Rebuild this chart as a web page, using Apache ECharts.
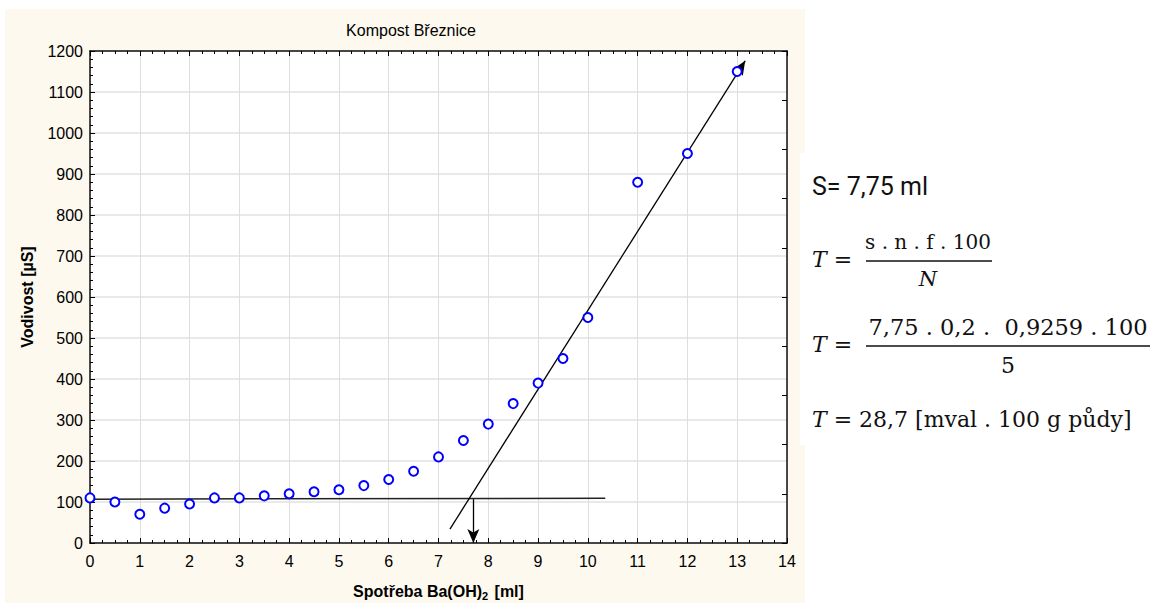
<!DOCTYPE html>
<html><head><meta charset="utf-8">
<script src="https://cdn.jsdelivr.net/npm/echarts@6/dist/echarts.min.js"></script>
<style>
html,body{margin:0;padding:0;background:#fff;}
#cream{position:absolute;left:5px;top:9px;width:800px;height:594px;background:#fdf9ee;}
#wbox{position:absolute;left:800px;top:153px;width:353px;height:292px;background:#fff;}
#chart{position:absolute;left:0;top:0;width:1153px;height:603px;}
</style></head>
<body>
<div id="cream"></div><div id="wbox"></div>
<div id="chart"></div>
<script>
// Data
const titleText = 'Kompost Březnice';
const xValues = [0,0.5,1,1.5,2,2.5,3,3.5,4,4.5,5,5.5,6,6.5,7,7.5,8,8.5,9,9.5,10,11,12,13];
const yValues = [110,100,70,85,95,110,110,115,120,125,130,140,155,175,210,250,290,340,390,450,550,880,950,1150];
const baseLine = [[0,107],[10.35,109]];
const steepLine = [[7.23,34],[13.16,1176]];
const dropArrow = [[7.7,107],[7.7,0]];
const formulaLines = {
  s: 'S= 7,75 ml',
  num1: 's . n . f . 100',
  den1: 'N',
  num2: '7,75 . 0,2 .  0,9259 . 100',
  den2: '5',
  res: '28,7 [mval . 100 g půdy]'
};

const chart = echarts.init(document.getElementById('chart'), null, {renderer:'svg'});
const pts = xValues.map((x,i)=>[x,yValues[i]]);
const sans = 'Liberation Sans, Arial, sans-serif';
const axisFont = {fontFamily:sans, fontSize:16, color:'#000'};
const serif = 'DejaVu Serif, serif';

const option = {
  backgroundColor:'transparent',
  animation:false,
  title:{text:titleText, left:406, top:17, textAlign:'center',
    textStyle:{fontFamily:sans, fontSize:16, fontWeight:'normal', color:'#000'}},
  grid:{left:90, top:51, right:366, bottom:60, show:true, backgroundColor:'#fff', borderWidth:0,
    containLabel:false, outerBoundsMode:'none'},
  xAxis:[{
    type:'value', min:0, max:14, interval:1, position:'bottom',
    axisLine:{show:true, onZero:false, lineStyle:{color:'#111', width:1.5}},
    axisTick:{show:true, inside:true, length:5, lineStyle:{color:'#000'}},
    minorTick:{show:true, splitNumber:4, length:3, lineStyle:{color:'#000'}},
    axisLabel:{...axisFont, margin:10},
    splitLine:{show:true, lineStyle:{color:'#dedede', width:1}},
    name:'{a|Spotřeba Ba(OH)}{s|2}{a| [ml]}', nameLocation:'middle', nameGap:38,
    nameTextStyle:{rich:{
      a:{fontFamily:sans, fontSize:16, fontWeight:'bold', color:'#000', lineHeight:20},
      s:{fontFamily:sans, fontSize:11, fontWeight:'bold', color:'#000', lineHeight:20, padding:[10,2,0,0]}
    }}
  },{
    type:'value', min:0, max:14, interval:1, position:'top',
    axisLine:{show:true, onZero:false, lineStyle:{color:'#111', width:1.5}},
    axisTick:{show:true, inside:true, length:5, lineStyle:{color:'#000'}},
    minorTick:{show:true, splitNumber:4, length:3, lineStyle:{color:'#000'}},
    axisLabel:{show:false}, splitLine:{show:false}
  }],
  yAxis:[{
    type:'value', min:0, max:1200, interval:100, position:'left',
    axisLine:{show:true, onZero:false, lineStyle:{color:'#111', width:1.5}},
    axisTick:{show:true, inside:true, length:5, lineStyle:{color:'#000'}},
    minorTick:{show:true, splitNumber:5, length:3, lineStyle:{color:'#000'}},
    axisLabel:{...axisFont, margin:7, formatter:(v)=>String(v)},
    splitLine:{show:true, lineStyle:{color:'#e2e2e2', width:1.5}},
    name:'Vodivost [µS]', nameLocation:'middle', nameGap:55, nameRotate:90,
    nameTextStyle:{fontFamily:sans, fontSize:16, fontWeight:'bold', color:'#000'}
  },{
    type:'value', min:0, max:10, interval:1, position:'right',
    axisLine:{show:true, onZero:false, lineStyle:{color:'#111', width:1.5}},
    axisTick:{show:true, inside:true, length:5, lineStyle:{color:'#000'}},
    axisLabel:{show:false}, splitLine:{show:false}
  }],
  series:[
    {type:'line', data:baseLine, showSymbol:false, symbol:'none',
     lineStyle:{color:'#222', width:1.5}, z:3},
    {type:'line', data:[], showSymbol:false,
     markLine:{silent:true, animation:false, label:{show:false},
       lineStyle:{color:'#000', width:1.3, type:'solid'},
       symbolSize:[9,14],
       data:[
         [{coord:steepLine[0], symbol:'none'},{coord:steepLine[1], symbol:'arrow'}],
         [{coord:dropArrow[0], symbol:'none'},{coord:dropArrow[1], symbol:'arrow'}]
       ]}, z:4},
    {type:'scatter', data:pts, symbol:'emptyCircle', symbolSize:9,
     itemStyle:{color:'#0000ff', borderColor:'#0000ff', borderWidth:1.5, opacity:1}, z:5}
  ],
  graphic:[
    {type:'text', x:812, y:186, style:{text:formulaLines.s, font:'25px Roboto, sans-serif', fill:'#111', textVerticalAlign:'middle'}},
    {type:'text', x:812, y:259, style:{text:'{i|T} =', rich:{i:{fontStyle:'italic', font:'italic 22px '+serif}}, font:'22px '+serif, fill:'#111', textVerticalAlign:'middle'}},
    {type:'text', x:928, y:242, style:{text:formulaLines.num1, font:'20px '+serif, fill:'#111', textAlign:'center', textVerticalAlign:'middle'}},
    {type:'line', shape:{x1:866, y1:261, x2:992, y2:261}, style:{stroke:'#111', lineWidth:1.3}},
    {type:'text', x:928, y:279, style:{text:formulaLines.den1, font:'italic 21px '+serif, fill:'#111', textAlign:'center', textVerticalAlign:'middle'}},
    {type:'text', x:812, y:344, style:{text:'{i|T} =', rich:{i:{fontStyle:'italic', font:'italic 22px '+serif}}, font:'22px '+serif, fill:'#111', textVerticalAlign:'middle'}},
    {type:'text', x:1008, y:327, style:{text:formulaLines.num2, font:'22.5px '+serif, fill:'#111', textAlign:'center', textVerticalAlign:'middle'}},
    {type:'line', shape:{x1:866, y1:346, x2:1150, y2:346}, style:{stroke:'#111', lineWidth:1.3}},
    {type:'text', x:1008, y:365, style:{text:formulaLines.den2, font:'22px '+serif, fill:'#111', textAlign:'center', textVerticalAlign:'middle'}},
    {type:'text', x:812, y:419, style:{text:'{i|T} = '+formulaLines.res, rich:{i:{fontStyle:'italic', font:'italic 22px '+serif}}, font:'22px '+serif, fill:'#111', textVerticalAlign:'middle'}}
  ]
};
chart.setOption(option);
</script>
</body></html>
